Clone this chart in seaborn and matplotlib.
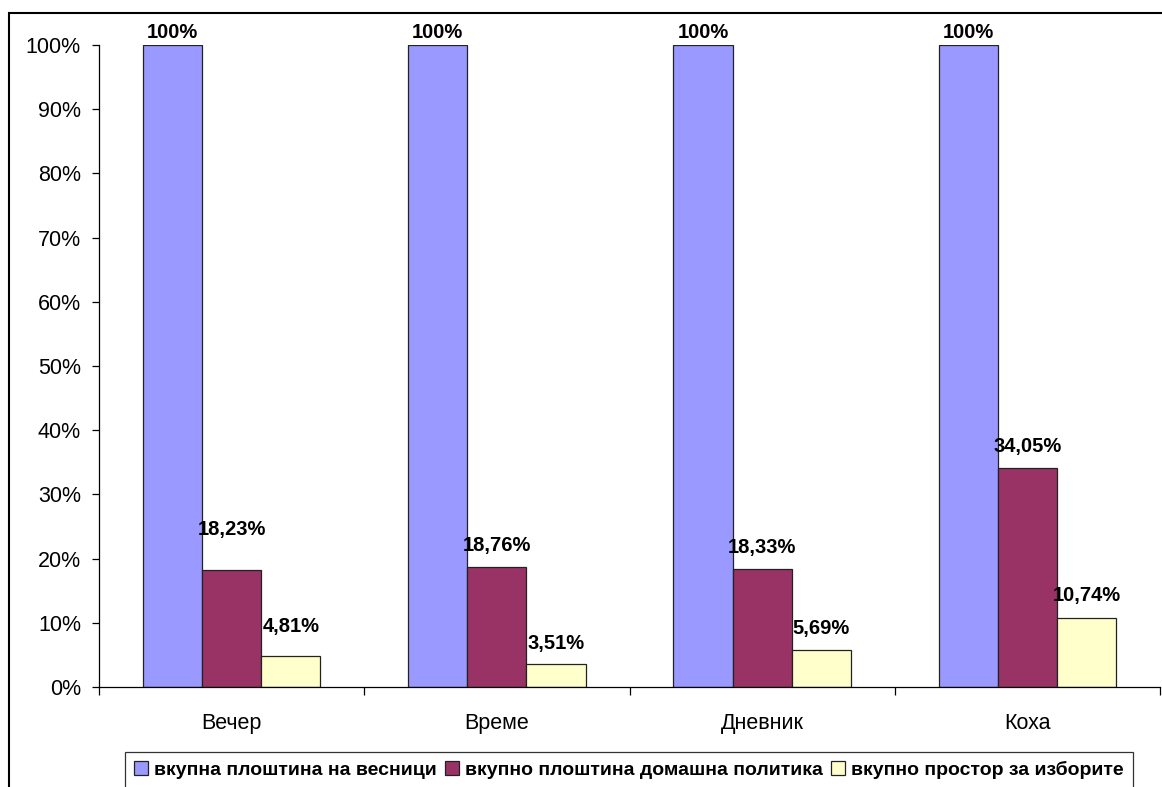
import pandas as pd
import seaborn as sns
import matplotlib.pyplot as plt
from matplotlib.patches import Rectangle, Patch
from matplotlib.ticker import FuncFormatter, FixedLocator

# Chart data (percent)
categories = ["Вечер", "Време", "Дневник", "Коха"]
series = ["вкупна плоштина на весници",
          "вкупно плоштина домашна политика",
          "вкупно простор за изборите"]
total_area = [100, 100, 100, 100]
domestic_politics = [18.23, 18.76, 18.33, 34.05]
election_space = [4.81, 3.51, 5.69, 10.74]
y_ticks = [0, 10, 20, 30, 40, 50, 60, 70, 80, 90, 100]

colors = ["#9999FF", "#993366", "#FFFFCC"]

# label offset above bar top, in points (Excel placed them a bit unevenly)
label_offsets = [
    [9, 9, 9, 9],
    [29, 15, 16, 16],
    [21, 15, 16, 16],
]

df = pd.DataFrame({
    "Весник": categories * 3,
    "Серија": [series[0]] * 4 + [series[1]] * 4 + [series[2]] * 4,
    "Вредност": total_area + domestic_politics + election_space,
})

sns.set_style("white")
plt.rcParams["font.family"] = ["Liberation Sans", "DejaVu Sans"]
plt.rcParams["text.color"] = "black"
plt.rcParams["xtick.color"] = "black"
plt.rcParams["ytick.color"] = "black"

fig = plt.figure(figsize=(11.62, 7.87), dpi=100)
ax = fig.add_axes([99 / 1162, 1 - 687 / 787, (1160 - 99) / 1162, (687 - 45) / 787])

sns.barplot(data=df, x="Весник", y="Вредност", hue="Серија", order=categories,
            hue_order=series, palette=colors, saturation=1, width=0.67,
            edgecolor="#222222", linewidth=0.9, legend=False, ax=ax)

ax.set_ylim(0, 100)
ax.set_xlim(-0.5, 3.5)
ax.set_xlabel("")
ax.set_ylabel("")
ax.set_yticks(y_ticks)
ax.yaxis.set_major_formatter(FuncFormatter(lambda v, p: f"{v:.0f}%"))
ax.tick_params(axis="y", direction="out", length=5, width=0.9, color="black",
               labelsize=15.5, labelcolor="black", pad=8, left=True)

# category boundaries as ticks, names centered between them
ax.xaxis.set_major_locator(FixedLocator([-0.5, 0.5, 1.5, 2.5, 3.5]))
ax.set_xticklabels([])
ax.xaxis.set_minor_locator(FixedLocator(range(len(categories))))
ax.set_xticklabels(categories, minor=True)
ax.tick_params(axis="x", which="major", direction="out", length=6, width=0.9,
               color="black", bottom=True)
ax.tick_params(axis="x", which="minor", length=0, labelsize=15.5,
               labelcolor="black", pad=19)

for s in ["top", "right"]:
    ax.spines[s].set_visible(False)
for s in ["left", "bottom"]:
    ax.spines[s].set_color("black")
    ax.spines[s].set_linewidth(0.9)

# value labels
for i, cont in enumerate(ax.containers):
    for j, bar in enumerate(cont):
        v = bar.get_height()
        txt = "100%" if v == 100 else f"{v:.2f}".replace(".", ",") + "%"
        ax.annotate(txt, (bar.get_x() + bar.get_width() / 2, v),
                    xytext=(0, label_offsets[i][j]), textcoords="offset points",
                    ha="center", va="center", fontsize=14.5, fontweight="bold",
                    color="black")

# legend at the bottom
handles = [Patch(facecolor=c, edgecolor="#222222", linewidth=0.9) for c in colors]
leg = fig.legend(handles, series, loc="upper center", bbox_to_anchor=(629 / 1162, 1 - 752 / 787),
                 ncol=3, frameon=True, fancybox=False, handlelength=0.7, handleheight=0.7,
                 handletextpad=0.35, columnspacing=0.4, borderpad=0.45, borderaxespad=0,
                 prop={"size": 14, "weight": "bold"})
leg.get_frame().set_edgecolor("black")
leg.get_frame().set_linewidth(0.9)

# chart area border (cut off at right and bottom)
fig.patches.append(Rectangle((9 / 1162, -0.1), 1.2, 1 - 13 / 787 + 0.1,
                             transform=fig.transFigure, fill=False,
                             edgecolor="black", linewidth=1.5))

fig.savefig("out.png", dpi=100)
